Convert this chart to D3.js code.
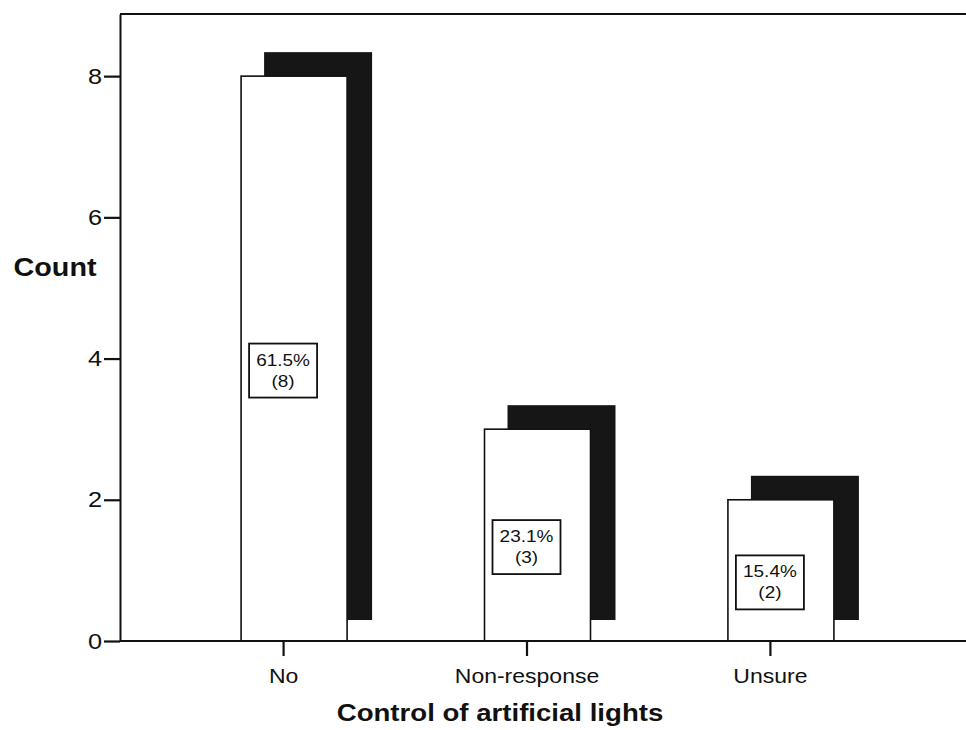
<!DOCTYPE html>
<html>
<head>
<meta charset="utf-8">
<script src="https://cdn.jsdelivr.net/npm/d3@7"></script>
<style>
  html, body { margin: 0; padding: 0; background: #fff; }
  svg { display: block; }
  text { font-family: "Liberation Sans", Arial, Helvetica, sans-serif; fill: #111; }
</style>
</head>
<body>
<svg id="chart" width="966" height="730"></svg>
<script>
// Survey responses: control of artificial lights
const categories = ["No", "Non-response", "Unsure"];
const counts = [8, 3, 2];
const percents = [61.5, 23.1, 15.4];
const yTicks = [0, 2, 4, 6, 8];

const W = 966, H = 730;
const plotLeft = 120, plotTop = 14, plotBottom = 641;
const STRETCH = 1.15;          // typeface is set slightly wide
const barW = 106;
const shadowDx = 23, shadowW = 108, shadowTopDy = -24, shadowBottomDy = -21;
const boxW = 68, boxH = 54, labelDy = 12;

const svg = d3.select("#chart");

const x = d3.scalePoint().domain(categories).range([plotLeft, 933]).padding(0.67);
const y = d3.scaleLinear().domain([0, 8.88]).range([plotBottom, plotTop]);

const data = categories.map((c, i) => ({ cat: c, count: counts[i], pct: percents[i] }));

// wide text helper
function wideText(g, tx, ty, str, size, weight, anchor) {
  return g.append("text")
    .attr("transform", `translate(${tx},${ty}) scale(${STRETCH},1)`)
    .attr("text-anchor", anchor || "middle")
    .attr("font-size", size)
    .attr("font-weight", weight || "normal")
    .text(str);
}

// frame top line
svg.append("line")
  .attr("x1", plotLeft).attr("x2", W).attr("y1", plotTop).attr("y2", plotTop)
  .attr("stroke", "#111").attr("stroke-width", 1.8);

// drop shadows
svg.append("g").selectAll("rect.shadow").data(data).join("rect")
  .attr("class", "shadow")
  .attr("x", d => x(d.cat) - 42 + shadowDx)
  .attr("y", d => y(d.count) + shadowTopDy)
  .attr("width", shadowW)
  .attr("height", d => (y(0) + shadowBottomDy) - (y(d.count) + shadowTopDy))
  .attr("fill", "#161616");

// bars
svg.append("g").selectAll("rect.bar").data(data).join("rect")
  .attr("class", "bar")
  .attr("x", d => x(d.cat) - 42)
  .attr("y", d => y(d.count))
  .attr("width", barW)
  .attr("height", d => y(0) - y(d.count))
  .attr("fill", "#fff")
  .attr("stroke", "#111")
  .attr("stroke-width", 1.6);

// value boxes
const lab = svg.append("g").selectAll("g.lab").data(data).join("g")
  .attr("class", "lab")
  .attr("transform", d => `translate(${x(d.cat)},${y(d.count / 2) + labelDy})`);
lab.append("rect")
  .attr("x", -boxW / 2).attr("y", -boxH / 2)
  .attr("width", boxW).attr("height", boxH)
  .attr("fill", "#fff").attr("stroke", "#111").attr("stroke-width", 1.8);
lab.each(function (d) {
  const g = d3.select(this);
  wideText(g, 0, -boxH / 2 + 22, d.pct.toFixed(1) + "%", 16.5);
  wideText(g, 0, -boxH / 2 + 43, "(" + d.count + ")", 16.5);
});

// y axis
const yAxis = svg.append("g")
  .attr("transform", `translate(${plotLeft},0)`)
  .call(d3.axisLeft(y).tickValues(yTicks).tickSize(16).tickSizeOuter(0).tickPadding(3).tickFormat(d3.format("d")));
yAxis.attr("font-family", null).attr("font-size", null);
yAxis.select(".domain").attr("stroke", "#111").attr("stroke-width", 2);
yAxis.selectAll(".tick line").attr("stroke", "#111").attr("stroke-width", 2.2);
yAxis.selectAll(".tick text")
  .attr("font-size", 22)
  .attr("fill", "#111")
  .attr("x", -18 / STRETCH)
  .attr("transform", `scale(${STRETCH},1)`);

// x axis
svg.append("line")
  .attr("x1", plotLeft).attr("x2", W).attr("y1", plotBottom).attr("y2", plotBottom)
  .attr("stroke", "#111").attr("stroke-width", 2.2);
const xAxis = svg.append("g")
  .attr("transform", `translate(0,${plotBottom})`)
  .call(d3.axisBottom(x).tickSize(15).tickSizeOuter(0));
xAxis.attr("font-family", null).attr("font-size", null);
xAxis.select(".domain").remove();
xAxis.selectAll(".tick line").attr("stroke", "#111").attr("stroke-width", 2.2);
xAxis.selectAll(".tick text").remove();
xAxis.selectAll(".tick").each(function (d) {
  wideText(d3.select(this), 0, 42, d, 20);
});

// axis titles
wideText(svg, 55, 276, "Count", 25, "bold");
wideText(svg, 500, 721, "Control of artificial lights", 24, "bold");
</script>
</body>
</html>
